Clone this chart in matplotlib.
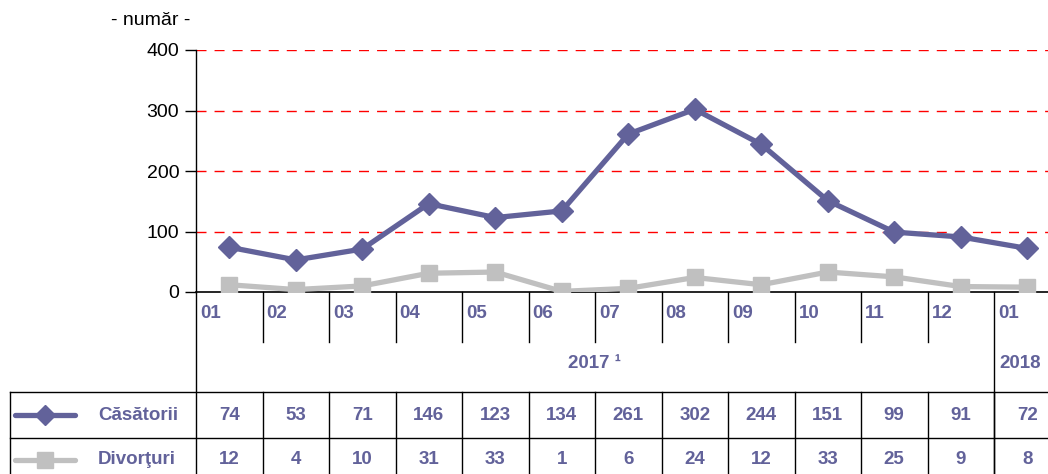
import matplotlib.pyplot as plt

plt.rcParams['font.family'] = ['Liberation Sans', 'DejaVu Sans']

months = ['01', '02', '03', '04', '05', '06', '07', '08', '09', '10', '11', '12', '01']
casatorii = [74, 53, 71, 146, 123, 134, 261, 302, 244, 151, 99, 91, 72]
divorturi = [12, 4, 10, 31, 33, 1, 6, 24, 12, 33, 25, 9, 8]
yticks = [0, 100, 200, 300, 400]

purple = '#62629a'
grey = '#c0c0c0'
W, H = 1048, 474
col = 66.5          # column width in px
x0 = 196            # left of plot area in px

fig = plt.figure(figsize=(W / 100, H / 100), dpi=100)

# overlay axes for the table: x in column units, y in pixels from top
tab = fig.add_axes([0, 0, 1, 1])
tab.set_xlim(-x0 / col, (W - x0) / col)
tab.set_ylim(H, 0)
tab.axis('off')

# main chart
ax = fig.add_axes([x0 / W, (H - 292) / H, 13 * col / W, 242 / H])
ax.set_xlim(0, 13)
ax.set_ylim(0, 400)
ax.patch.set_alpha(0)
n = len(months)
xs = [i + 0.5 for i in range(n)]

for v in yticks[1:]:
    ax.axhline(v, color='red', lw=1, ls=(0, (7.2, 5.8)), zorder=1)

ax.plot(xs, divorturi, color=grey, lw=3.8, marker='s', ms=11.5, zorder=3)
ax.plot(xs, casatorii, color=purple, lw=3.8, marker='D', ms=11, zorder=4)

ax.set_yticks(yticks)
ax.set_xticks([])
ax.tick_params(axis='y', length=8, width=1, labelsize=14, pad=4)
for s in ['top', 'right']:
    ax.spines[s].set_visible(False)
ax.spines['left'].set_linewidth(1)
ax.spines['bottom'].set_linewidth(1.2)

# table lines
lc = 'black'
tab.plot([0, 0], [292, H], color=lc, lw=1)
for i in range(1, n):
    bottom = H if i == 12 else 342
    tab.plot([i, i], [292, bottom], color=lc, lw=1)
    tab.plot([i, i], [392, H], color=lc, lw=1)
left = -x0 / col + 9.5 / col
for y in [392, 438]:
    tab.plot([left, 20], [y, y], color=lc, lw=1)
tab.plot([left, left], [392, H], color=lc, lw=1)

tab.text((190 - x0) / col, 20, '- număr -', ha='right', va='center', fontsize=14)

tk = dict(color=purple, fontsize=13.5, fontweight='bold', va='center')
for i, m in enumerate(months):
    tab.text(i + 0.06, 314, m, ha='left', **tk)
    tab.text(i + 0.5, 415, str(casatorii[i]), ha='center', **tk)
    tab.text(i + 0.5, 460, str(divorturi[i]), ha='center', **tk)
tab.text(6, 363, '2017 ¹', ha='center', **tk)
tab.text(12.08, 363, '2018', ha='left', **tk)

# legend inside table
lx = [(15 - x0) / col, (75 - x0) / col]
tab.plot(lx, [415, 415], color=purple, lw=3.8, solid_capstyle='round')
tab.plot([(45 - x0) / col], [415], color=purple, marker='D', ms=10)
tab.plot(lx, [460, 460], color=grey, lw=3.8, solid_capstyle='round')
tab.plot([(45 - x0) / col], [460], color=grey, marker='s', ms=11)
tab.text((98 - x0) / col, 415, 'Căsătorii', ha='left', **tk)
tab.text((98 - x0) / col, 460, 'Divorţuri', ha='left', **tk)

fig.savefig('out.png', dpi=100)
